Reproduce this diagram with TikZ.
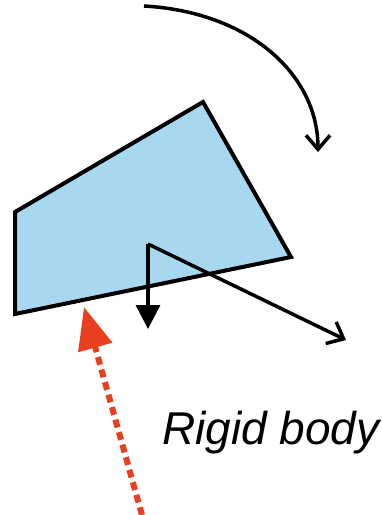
\documentclass[tikz,border=0pt]{standalone}
\usepackage{fontspec}
\setmainfont{Liberation Sans}
\usetikzlibrary{arrows.meta}

\definecolor{bodyfill}{HTML}{A8D8F0}
\definecolor{pushred}{HTML}{E8401E}

\begin{document}
\begin{tikzpicture}[
  x=1pt, y=-1pt,
  edge/.style={draw=black, line width=4pt, line join=miter},
  arr/.style={-{Straight Barb[length=14pt,width=24pt,line width=3.5pt]}, line width=3.5pt},
  force/.style={-{Triangle[length=24pt,width=24pt]}, line width=3.5pt},
  push/.style={-{Triangle[length=42pt,width=34pt]}, pushred, line width=6pt, dash pattern=on 8pt off 5pt}
]
\useasboundingbox (0,0) rectangle (382,515);

% the rigid body
\coordinate (c1) at (15,212);
\coordinate (c2) at (203,102);
\coordinate (c3) at (291,257);
\coordinate (c4) at (15,314);
\filldraw[edge, fill=bodyfill] (c1) -- (c2) -- (c3) -- (c4) -- cycle;

% arrows from the reference point
\coordinate (ref) at (148,244);
\coordinate (down) at (148,329);
\coordinate (slant) at (346,340);
\draw[force] (ref) -- (down);
\draw[arr] (ref) -- (slant);

% rotation
\coordinate (rotstart) at (144,6);
\coordinate (rotend) at (318,152);
\draw[arr] (rotstart) .. controls (250,12) and (318,75) .. (rotend);

% external push
\coordinate (pushfoot) at (142,515);
\coordinate (pushtip) at (84,307);
\draw[push] (pushfoot) -- (pushtip);

\node[anchor=base west, inner sep=0pt, font=\fontsize{46}{50}\selectfont\itshape] (label) at (162,444) {Rigid body};
\end{tikzpicture}
\end{document}
